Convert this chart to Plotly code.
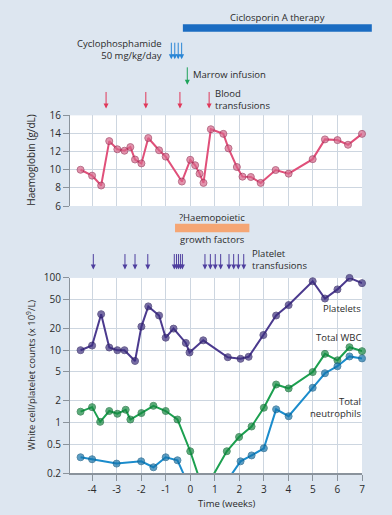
import plotly.graph_objects as go

# ---------------- data ----------------
hb_t = [-4.47, -4.0, -3.63, -3.3, -2.97, -2.68, -2.44, -2.25, -1.99, -1.71, -1.27, -1.0,
        -0.34, 0.0, 0.2, 0.38, 0.54, 0.84, 1.35, 1.56, 1.9, 2.13, 2.47, 2.87, 3.48, 4.01,
        4.99, 5.49, 6.0, 6.43, 7.0]
hb_v = [10.0, 9.35, 8.26, 13.16, 12.26, 12.1, 12.5, 11.13, 10.7, 13.5, 12.15, 11.45,
        8.7, 11.1, 10.5, 9.57, 8.55, 14.47, 13.96, 12.36, 10.3, 9.24, 9.2, 8.55, 9.97, 9.57,
        11.17, 13.35, 13.27, 12.76, 13.96]

plt_t = [-4.47, -4.0, -3.63, -3.3, -2.97, -2.68, -2.25, -1.99, -1.71, -1.27, -1.0, -0.68,
         -0.18, -0.03, 0.53, 1.53, 2.05, 2.38, 2.98, 3.5, 4.01, 4.99, 5.49, 6.0, 6.49, 7.0]
plt_v = [10, 11.6, 31.5, 10.9, 10, 10, 7.1, 21.2, 40.4, 30.2, 14.9, 19.9,
         12.6, 9.3, 13.7, 8.0, 7.6, 8.1, 16.2, 30.2, 42.1, 90, 51.9, 69.4, 100, 84.7]

wbc_t = [-4.47, -4.0, -3.67, -3.3, -2.97, -2.63, -2.44, -1.99, -1.5, -1.0, -0.52, 0.0,
         0.55, 1.49, 1.99, 2.5, 3.0, 3.5, 4.01, 4.99, 5.49, 6.0, 6.49, 7.0]
wbc_v = [1.41, 1.63, 1.02, 1.44, 1.32, 1.5, 1.1, 1.35, 1.7, 1.44, 1.1, 0.4,
         0.11, 0.4, 0.63, 0.88, 1.6, 3.35, 2.96, 4.98, 8.9, 7.25, 11.0, 9.7]

neu_t = [-4.47, -4.0, -3.0, -2.0, -1.5, -1.0, -0.52, 0.5, 2.05, 2.5, 3.0, 3.5, 4.01,
         4.99, 5.49, 6.0, 6.49, 7.0]
neu_v = [0.33, 0.31, 0.27, 0.29, 0.24, 0.33, 0.30, 0.05, 0.29, 0.35, 0.44, 1.52, 1.22,
         3.02, 4.8, 6.0, 8.2, 7.7]

ciclosporin_span = [-0.3, 7.4]
cyclophosphamide_t = [-0.77, -0.63, -0.49, -0.35]
marrow_t = [-0.12]
blood_tx_t = [-3.43, -1.81, -0.42, 0.77]
growth_factor_span = [-0.62, 2.41]
platelet_tx_t = [-3.95, -2.66, -2.25, -1.73, -0.65, -0.56, -0.48, -0.40, -0.32,
                 0.60, 0.82, 1.02, 1.24, 1.58, 1.77, 1.96, 2.18]

x_ticks = [-4, -3, -2, -1, 0, 1, 2, 3, 4, 5, 6, 7]
x_ticktext = ["-4", "-3", "-2", "-1", "0", "1", "2", "3", "4", "5", "6", "7"]
hb_ticks = [6, 8, 10, 12, 14, 16]
cnt_ticks = [0.2, 0.5, 1, 2, 5, 10, 20, 50, 100]
cnt_ticktext = ["0.2", "0.5", "1", "2", "5", "10", "20", "50", "100"]

# ---------------- layout helpers ----------------
W, H = 392, 515
ML, MR, MT, MB = 70, 30, 0, 42
XMIN, XMAX = -4.9, 7.0
CNT_MIN = 0.2
PH = H - MT - MB
PW = W - ML - MR


def tx(t):
    return (t - XMIN) / (XMAX - XMIN)


def px(xpx):
    return (xpx - ML) / PW


def py(ypx):
    return (H - MB - ypx) / PH


BG = "#dde6f0"
GRID = "#cdd6e0"
AXC = "#8a939c"
TXT = "#2b2b2b"
FONT = "Open Sans"
LS = 9.5

C_HB, C_HB_M, C_HB_O = "#e0507a", "#d8668a", "#9c3358"
C_PLT, C_PLT_M = "#4b3a8e", "#3e3080"
C_WBC, C_WBC_M = "#1ca050", "#178a43"
C_NEU, C_NEU_M = "#1b8ccc", "#1676ad"

fig = go.Figure()


def add_series(t, v, col, mcol, ocol, yaxis, vmin=None):
    sizes = [7 if (vmin is None or val >= vmin) else 0 for val in v]
    fig.add_trace(go.Scatter(
        x=t, y=v, mode="lines+markers", xaxis="x" if yaxis == "y" else "x2", yaxis=yaxis,
        line=dict(color=col, width=2), cliponaxis=False,
        marker=dict(size=sizes, color=mcol, line=dict(color=ocol, width=1)),
        showlegend=False, hoverinfo="skip"))


add_series(hb_t, hb_v, C_HB, C_HB_M, C_HB_O, "y")
add_series(plt_t, plt_v, C_PLT, C_PLT_M, "#2c2060", "y2", CNT_MIN)
add_series(wbc_t, wbc_v, C_WBC, C_WBC_M, "#0f6a32", "y2", CNT_MIN)
add_series(neu_t, neu_v, C_NEU, C_NEU_M, "#0f5a85", "y2", CNT_MIN)

annotations = []
shapes = []


def label(text, x, y, xanchor="center", size=LS):
    annotations.append(dict(text=text, x=x, y=y, xref="paper", yref="paper",
                            xanchor=xanchor, yanchor="middle", showarrow=False,
                            align=xanchor if xanchor != "center" else "center",
                            borderpad=0,
                            font=dict(family=FONT, size=size, color=TXT)))


def arrows(times, y_head, length, color):
    for t in times:
        annotations.append(dict(text="", x=tx(t), y=py(y_head), xref="paper", yref="paper",
                                showarrow=True, ax=0, ay=-length, axref="pixel", ayref="pixel",
                                arrowhead=2, arrowsize=1, arrowwidth=1, arrowcolor=color))


# ciclosporin bar
shapes.append(dict(type="rect", xref="paper", yref="paper",
                   x0=tx(ciclosporin_span[0]), x1=tx(ciclosporin_span[1]),
                   y0=py(25), y1=py(17.5), fillcolor="#1a6cc2", line=dict(width=0)))
label("Ciclosporin A therapy", px(277), py(11))

# cyclophosphamide
arrows(cyclophosphamide_t, 53, 18, "#2a86d6")
label("Cyclophosphamide<br>50 mg/kg/day", px(163), py(43), "right")

# marrow
arrows(marrow_t, 79, 19, "#1ea35a")
label("Marrow infusion", px(192), py(68.5), "left")

# blood transfusions
arrows(blood_tx_t, 103, 18, "#e0385a")
label("Blood<br>transfusions", px(214), py(93.5), "left")

# growth factors
shapes.append(dict(type="rect", xref="paper", yref="paper",
                   x0=tx(growth_factor_span[0]), x1=tx(growth_factor_span[1]),
                   y0=py(228.7), y1=py(220), fillcolor="#f5a674", line=dict(width=0)))
label("?Haemopoietic", px(212), py(213.5))
label("growth factors", px(212), py(236))

# platelet transfusions
arrows(platelet_tx_t, 266.5, 17, "#4e3e9e")
label("Platelet<br>transfusions", px(251), py(256.5), "left")

# series labels
label("Platelets", 1.0, py(306.5), "right")
label("Total WBC", 1.0, py(335), "right")
label("Total<br>neutrophils", 1.0, py(406.5), "right")

# axis titles
annotations.append(dict(text="Haemoglobin (g/dL)", x=px(31), y=py(155),
                        xref="paper", yref="paper", textangle=-90, showarrow=False,
                        xanchor="center", yanchor="middle",
                        font=dict(family=FONT, size=10, color=TXT)))
annotations.append(dict(text="White cell/platelet counts (x 10<sup>9</sup>/L)",
                        x=px(31), y=py(374),
                        xref="paper", yref="paper", textangle=-90, showarrow=False,
                        xanchor="center", yanchor="middle",
                        font=dict(family=FONT, size=LS, color=TXT)))
annotations.append(dict(text="Time (weeks)", x=px(227), y=py(504),
                        xref="paper", yref="paper", showarrow=False,
                        xanchor="center", yanchor="middle",
                        font=dict(family=FONT, size=LS, color=TXT)))

axis_common = dict(showgrid=True, gridcolor=GRID, gridwidth=1, zeroline=False,
                   tickfont=dict(family=FONT, size=10, color=TXT))

fig.update_layout(
    width=W, height=H,
    margin=dict(l=ML, r=MR, t=MT, b=MB, pad=0),
    paper_bgcolor=BG, plot_bgcolor="white",
    showlegend=False,
    xaxis=dict(range=[XMIN, XMAX], domain=[0, 1], anchor="y", tickvals=x_ticks,
               showticklabels=False, ticks="", showline=False, **axis_common),
    yaxis=dict(range=[6, 16], domain=[py(202), py(110)], anchor="x", tickvals=hb_ticks,
               ticks="outside", ticklen=6, tickcolor=AXC, showline=True, linecolor=AXC,
               linewidth=1, **axis_common),
    xaxis2=dict(range=[XMIN, XMAX], domain=[0, 1], anchor="y2", tickvals=x_ticks,
                ticktext=x_ticktext, ticks="outside", ticklen=6, tickcolor=AXC,
                showline=True, linecolor=AXC, linewidth=1.5, **axis_common),
    yaxis2=dict(type="log", range=[-0.699, 2.0], domain=[py(473), py(275)], anchor="x2",
                tickvals=cnt_ticks, ticktext=cnt_ticktext, ticks="outside", ticklen=6,
                tickcolor=AXC, showline=True, linecolor=AXC, linewidth=1, **axis_common),
    annotations=annotations,
    shapes=shapes,
)

fig.write_html(
    "out.html",
    config={"displayModeBar": False},
    post_script="document.body.style.margin='0';document.body.style.background='%s';" % BG,
)
